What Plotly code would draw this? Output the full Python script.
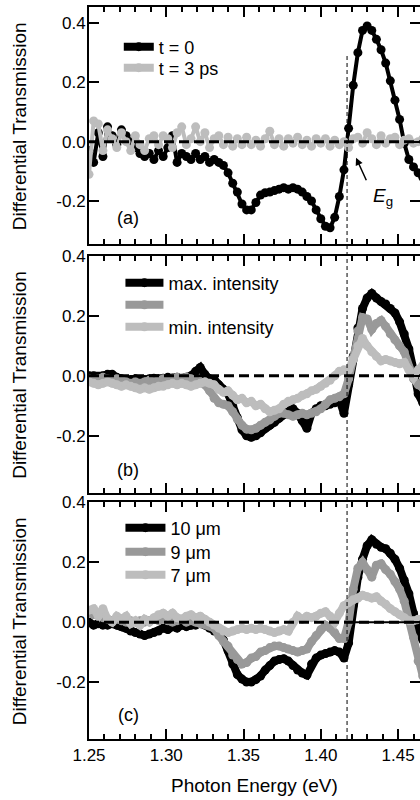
import plotly.graph_objects as go

energy = [1.250, 1.253, 1.256, 1.259, 1.262, 1.265, 1.268, 1.271, 1.274, 1.277,
          1.280, 1.283, 1.286, 1.289, 1.292, 1.295, 1.298, 1.301, 1.304, 1.307,
          1.310, 1.313, 1.316, 1.319, 1.322, 1.325, 1.328, 1.331, 1.334, 1.337,
          1.340, 1.343, 1.346, 1.349, 1.352, 1.355, 1.358, 1.361, 1.364, 1.367,
          1.370, 1.373, 1.376, 1.379, 1.382, 1.385, 1.388, 1.391, 1.394, 1.397,
          1.400, 1.403, 1.406, 1.409, 1.412, 1.415, 1.418, 1.421, 1.424, 1.427,
          1.430, 1.433, 1.436, 1.439, 1.442, 1.445, 1.448, 1.451, 1.454, 1.457,
          1.460, 1.463, 1.466]

# panel (a)
a_t0 = [-0.03, -0.07, 0.03, -0.05, 0.05, 0.02, -0.01, 0.04, 0.02, 0.00,
        -0.02, -0.04, -0.05, -0.04, -0.06, -0.03, -0.05, -0.02, 0.02, -0.07,
        -0.04, -0.05, -0.06, -0.04, -0.06, -0.05, -0.07, -0.06, -0.07, -0.08,
        -0.105, -0.14, -0.17, -0.21, -0.23, -0.23, -0.205, -0.18, -0.172, -0.17,
        -0.165, -0.16, -0.155, -0.16, -0.155, -0.16, -0.17, -0.185, -0.20, -0.23,
        -0.26, -0.285, -0.29, -0.255, -0.185, -0.095, 0.045, 0.19, 0.30, 0.375,
        0.39, 0.375, 0.345, 0.31, 0.265, 0.205, 0.14, 0.075, -0.005, -0.06,
        -0.085, -0.105, -0.12]
a_t3 = [-0.11, 0.07, 0.06, -0.03, 0.04, 0.01, -0.02, 0.03, 0.00, -0.03,
        0.02, -0.01, -0.03, 0.01, 0.02, -0.01, 0.02, 0.01, -0.02, 0.03,
        0.05, -0.01, 0.01, 0.05, 0.00, 0.03, -0.02, 0.01, 0.02, -0.01,
        0.015, -0.015, 0.01, -0.01, 0.015, -0.01, 0.005, -0.015, 0.01, 0.035,
        -0.01, 0.01, -0.015, 0.01, -0.005, 0.015, -0.01, 0.005, -0.015, 0.01,
        -0.005, 0.01, -0.015, 0.005, -0.01, 0.0, -0.02, 0.01, 0.015, -0.005,
        0.03, 0.01, -0.01, 0.02, -0.005, 0.01, 0.015, -0.01, 0.005, 0.01,
        -0.005, 0.0, 0.01]

# panel (b)
b_max = [0.0, 0.0, -0.005, 0.0, 0.005, 0.005, -0.005, -0.01, -0.015, -0.012,
         -0.01, -0.015, -0.012, -0.01, -0.008, -0.01, -0.008, -0.005, -0.008, -0.005,
         -0.008, -0.005, 0.0, 0.015, 0.028, 0.005, -0.01, -0.012, -0.03, -0.045,
         -0.06, -0.10, -0.14, -0.18, -0.20, -0.205, -0.20, -0.19, -0.175, -0.165,
         -0.155, -0.142, -0.13, -0.115, -0.11, -0.125, -0.15, -0.175, -0.125, -0.11,
         -0.10, -0.10, -0.095, -0.09, -0.08, -0.125, -0.03, 0.065, 0.16, 0.225,
         0.26, 0.275, 0.26, 0.248, 0.24, 0.225, 0.21, 0.18, 0.14, 0.09,
         0.02, -0.06, -0.09]
b_mid = [-0.01, -0.015, -0.01, -0.005, -0.01, -0.015, -0.01, -0.015, -0.02, -0.025,
         -0.02, -0.025, -0.02, -0.015, -0.02, -0.015, -0.01, -0.015, -0.01, -0.005,
         -0.01, -0.005, -0.01, -0.015, -0.02, -0.03, -0.05, -0.075, -0.09, -0.095,
         -0.10, -0.12, -0.145, -0.165, -0.178, -0.18, -0.175, -0.165, -0.155, -0.147,
         -0.135, -0.125, -0.125, -0.13, -0.135, -0.13, -0.125, -0.13, -0.125, -0.12,
         -0.11, -0.095, -0.08, -0.075, -0.07, -0.06, -0.01, 0.06, 0.15, 0.195,
         0.19, 0.155, 0.175, 0.185, 0.165, 0.14, 0.12, 0.10, 0.08, 0.03,
         -0.01, -0.03, -0.04]
b_min = [-0.02, -0.025, -0.03, -0.025, -0.02, -0.025, -0.03, -0.035, -0.03, -0.035,
         -0.04, -0.045, -0.04, -0.045, -0.04, -0.035, -0.035, -0.03, -0.025, -0.03,
         -0.025, -0.03, -0.035, -0.03, -0.025, -0.02, -0.025, -0.03, -0.045, -0.055,
         -0.05, -0.065, -0.08, -0.075, -0.09, -0.085, -0.10, -0.095, -0.11, -0.12,
         -0.115, -0.11, -0.095, -0.085, -0.08, -0.075, -0.065, -0.06, -0.05, -0.045,
         -0.035, -0.025, -0.015, 0.0, 0.015, 0.02, 0.02, 0.055, 0.10, 0.125,
         0.10, 0.08, 0.065, 0.05, 0.055, 0.05, 0.045, 0.04, 0.045, 0.02,
         -0.005, 0.02, 0.035]

# panel (c)
c_10 = [0.0, -0.01, -0.005, -0.01, -0.01, -0.005, -0.01, -0.015, -0.02, -0.03,
        -0.035, -0.04, -0.045, -0.04, -0.035, -0.03, -0.02, -0.025, -0.015, -0.02,
        -0.01, -0.015, -0.01, -0.01, -0.005, -0.01, -0.02, -0.03, -0.035, -0.06,
        -0.095, -0.14, -0.175, -0.19, -0.20, -0.20, -0.192, -0.18, -0.16, -0.145,
        -0.13, -0.125, -0.122, -0.13, -0.145, -0.16, -0.17, -0.177, -0.14, -0.12,
        -0.11, -0.105, -0.10, -0.095, -0.10, -0.12, -0.07, 0.056, 0.15, 0.21,
        0.255, 0.275, 0.26, 0.25, 0.245, 0.23, 0.21, 0.18, 0.14, 0.095,
        0.03, -0.03, -0.06]
c_9 = [0.03, 0.025, 0.03, 0.015, 0.01, 0.005, 0.01, 0.005, 0.0, 0.005,
       0.0, 0.005, 0.0, 0.005, 0.01, 0.005, 0.01, 0.005, 0.0, 0.005,
       0.01, 0.0, 0.005, 0.0, -0.005, -0.005, -0.01, -0.02, -0.045, -0.065,
       -0.08, -0.11, -0.125, -0.14, -0.135, -0.12, -0.115, -0.10, -0.095, -0.085,
       -0.08, -0.08, -0.085, -0.09, -0.095, -0.10, -0.095, -0.09, -0.065, -0.045,
       -0.025, -0.01, -0.02, -0.035, -0.055, -0.055, 0.0, 0.11, 0.18, 0.20,
       0.175, 0.15, 0.19, 0.195, 0.175, 0.16, 0.135, 0.11, 0.07, 0.01,
       -0.05, -0.13, -0.18]
c_7 = [0.04, 0.045, 0.02, 0.045, 0.01, 0.0, 0.02, 0.01, 0.02, -0.005,
       0.005, -0.01, 0.01, 0.0, 0.015, 0.025, 0.03, 0.02, 0.03, 0.015,
       0.01, 0.02, 0.025, 0.015, 0.02, 0.01, 0.0, -0.01, -0.02, -0.03,
       -0.035, -0.03, -0.025, -0.02, -0.025, -0.02, -0.025, -0.02, -0.025, -0.03,
       -0.035, -0.03, -0.025, -0.03, 0.0, 0.02, 0.01, 0.02, 0.015, 0.02,
       0.03, 0.035, 0.02, 0.0, 0.03, 0.055, 0.065, 0.075, 0.08, 0.09,
       0.085, 0.08, 0.085, 0.07, 0.06, 0.045, 0.035, 0.025, 0.015, 0.005,
       0.005, 0.01, 0.01]

x_ticks = [1.25, 1.30, 1.35, 1.40, 1.45]
x_ticktext = ["1.25", "1.30", "1.35", "1.40", "1.45"]
y_ticks = [0.4, 0.2, 0.0, -0.2]
y_ticktext = ["0.4", "0.2", "0.0", "-0.2"]
E_gap = 1.417

BLACK = "#000000"
MID = "#999999"
LIGHT = "#bdbdbd"
FONT = "Liberation Sans, Arial, Helvetica, sans-serif"

fig = go.Figure()

def add(y, color, name, xa, ya, leg, msize, lw, show=True):
    fig.add_trace(go.Scatter(
        x=energy, y=y, name=name, mode="lines+markers",
        line=dict(color=color, width=lw),
        marker=dict(color=color, size=msize),
        xaxis=xa, yaxis=ya, legend=leg, showlegend=show))

def legend_only(color, name, xa, ya, leg):
    fig.add_trace(go.Scatter(
        x=[None], y=[None], name=name, mode="lines+markers",
        line=dict(color=color, width=8), marker=dict(color=color, size=9),
        xaxis=xa, yaxis=ya, legend=leg, showlegend=True))

add(a_t0, BLACK, "t = 0", "x", "y", "legend", 9, 4, show=False)
add(a_t3, LIGHT, "t = 3 ps", "x", "y", "legend2", 9, 4, show=False)
legend_only(BLACK, "t = 0", "x", "y", "legend")
legend_only(LIGHT, "t = 3 ps", "x", "y", "legend2")
add(b_max, BLACK, "max. intensity", "x2", "y2", "legend3", 9, 8)
add(b_mid, MID, " ", "x2", "y2", "legend4", 9, 8)
add(b_min, LIGHT, "min. intensity", "x2", "y2", "legend5", 9, 8)
add(c_10, BLACK, "10 μm", "x3", "y3", "legend6", 9, 8)
add(c_9, MID, "9 μm", "x3", "y3", "legend7", 9, 8)
add(c_7, LIGHT, "7 μm", "x3", "y3", "legend8", 9, 8)

xcommon = dict(range=[1.25, 1.4642], showline=True, linecolor="black", linewidth=2,
               mirror="ticks", ticks="inside", ticklen=10, tickwidth=1.5,
               tickcolor="black", tickvals=x_ticks, ticktext=x_ticktext,
               minor=dict(dtick=0.01, tick0=1.25, ticks="inside", ticklen=5,
                          tickwidth=1.5, tickcolor="black"),
               showgrid=False, zeroline=False, domain=[0, 1], automargin=False,
               tickfont=dict(family=FONT, size=17, color="black"))
ycommon = dict(showline=True, linecolor="black", linewidth=2, mirror="ticks",
               ticks="inside", ticklen=10, tickwidth=1.5, tickcolor="black",
               tickvals=y_ticks, ticktext=y_ticktext, showgrid=False, zeroline=False,
               automargin=False, ticklabelstandoff=-2,
               tickfont=dict(family=FONT, size=17, color="black"))

def leg(x, y, iw=30):
    return dict(x=x, y=y, xanchor="left", yanchor="middle", bgcolor="rgba(0,0,0,0)",
                font=dict(family=FONT, size=18, color="black"), itemwidth=iw,
                tracegroupgap=0)

fig.update_layout(
    width=420, height=800,
    margin=dict(l=89, r=0, t=7, b=61, autoexpand=False),
    paper_bgcolor="white", plot_bgcolor="white",
    font=dict(family=FONT, color="black"),
    xaxis=dict(xcommon, anchor="y", showticklabels=False),
    xaxis2=dict(xcommon, anchor="y2", showticklabels=False),
    xaxis3=dict(xcommon, anchor="y3", showticklabels=True),
    yaxis=dict(ycommon, anchor="x", domain=[0.6758, 1.0], range=[-0.346, 0.454]),
    yaxis2=dict(ycommon, anchor="x2", domain=[0.3365, 0.6598], range=[-0.39, 0.40]),
    yaxis3=dict(ycommon, anchor="x3", domain=[0.0, 0.3234], range=[-0.39, 0.40]),
    legend=leg(0.09, 0.9454),
    legend2=leg(0.09, 0.9167),
    legend3=leg(0.095, 0.6230, 38),
    legend4=leg(0.095, 0.5929, 38),
    legend5=leg(0.095, 0.5628, 38),
    legend6=leg(0.095, 0.2883, 40),
    legend7=leg(0.095, 0.2555, 40),
    legend8=leg(0.095, 0.2240, 40),
    showlegend=True,
)

# zero lines
for xr, yr in [("x domain", "y"), ("x2 domain", "y2"), ("x3 domain", "y3")]:
    fig.add_shape(type="line", xref=xr, yref=yr, x0=0, x1=1, y0=0, y1=0,
                  line=dict(color="black", width=3, dash="10px,5px"), layer="above")
fig.add_shape(type="line", xref="x3", yref="y3", x0=E_gap, x1=1.4642, y0=0, y1=0,
              line=dict(color="black", width=2), layer="above")
# band-gap marker
fig.add_shape(type="line", xref="x", yref="paper", x0=E_gap, x1=E_gap, y0=0, y1=0.934,
              line=dict(color="black", width=1, dash="4px,3px"), layer="above")

fig.add_annotation(x=1.4228, y=-0.054, ax=1.4299, ay=-0.135, xref="x", yref="y",
                   axref="x", ayref="y", text="", showarrow=True, arrowhead=2,
                   arrowsize=1, arrowwidth=1.5, arrowcolor="black")
fig.add_annotation(x=1.4403, y=-0.186, xref="x", yref="y", showarrow=False,
                   xanchor="center", yanchor="middle",
                   text="<i>E</i><sub>g</sub>", font=dict(family=FONT, size=19, color="black"))

for lab, ya, yv in [("(a)", "y", -0.258), ("(b)", "y2", -0.314), ("(c)", "y3", -0.31)]:
    fig.add_annotation(x=1.2755, y=yv, xref="x", yref=ya, text=lab, showarrow=False,
                       font=dict(family=FONT, size=18, color="black"))

# axis titles
for ymid in [(0.6758 + 1.0) / 2, (0.3365 + 0.6598) / 2, 0.3234 / 2]:
    fig.add_annotation(x=-0.21, y=ymid, xref="paper", yref="paper", xanchor="center",
                       yanchor="middle", textangle=-90, showarrow=False,
                       text="Differential Transmission",
                       font=dict(family=FONT, size=19, color="black"))
fig.add_annotation(x=0.5, y=-0.0642, xref="paper", yref="paper", xanchor="center",
                   yanchor="middle", showarrow=False, text="Photon Energy (eV)",
                   font=dict(family=FONT, size=19, color="black"))

fig.write_html("out.html", config={"displayModeBar": False},
               post_script="document.body.style.margin='0px';")
